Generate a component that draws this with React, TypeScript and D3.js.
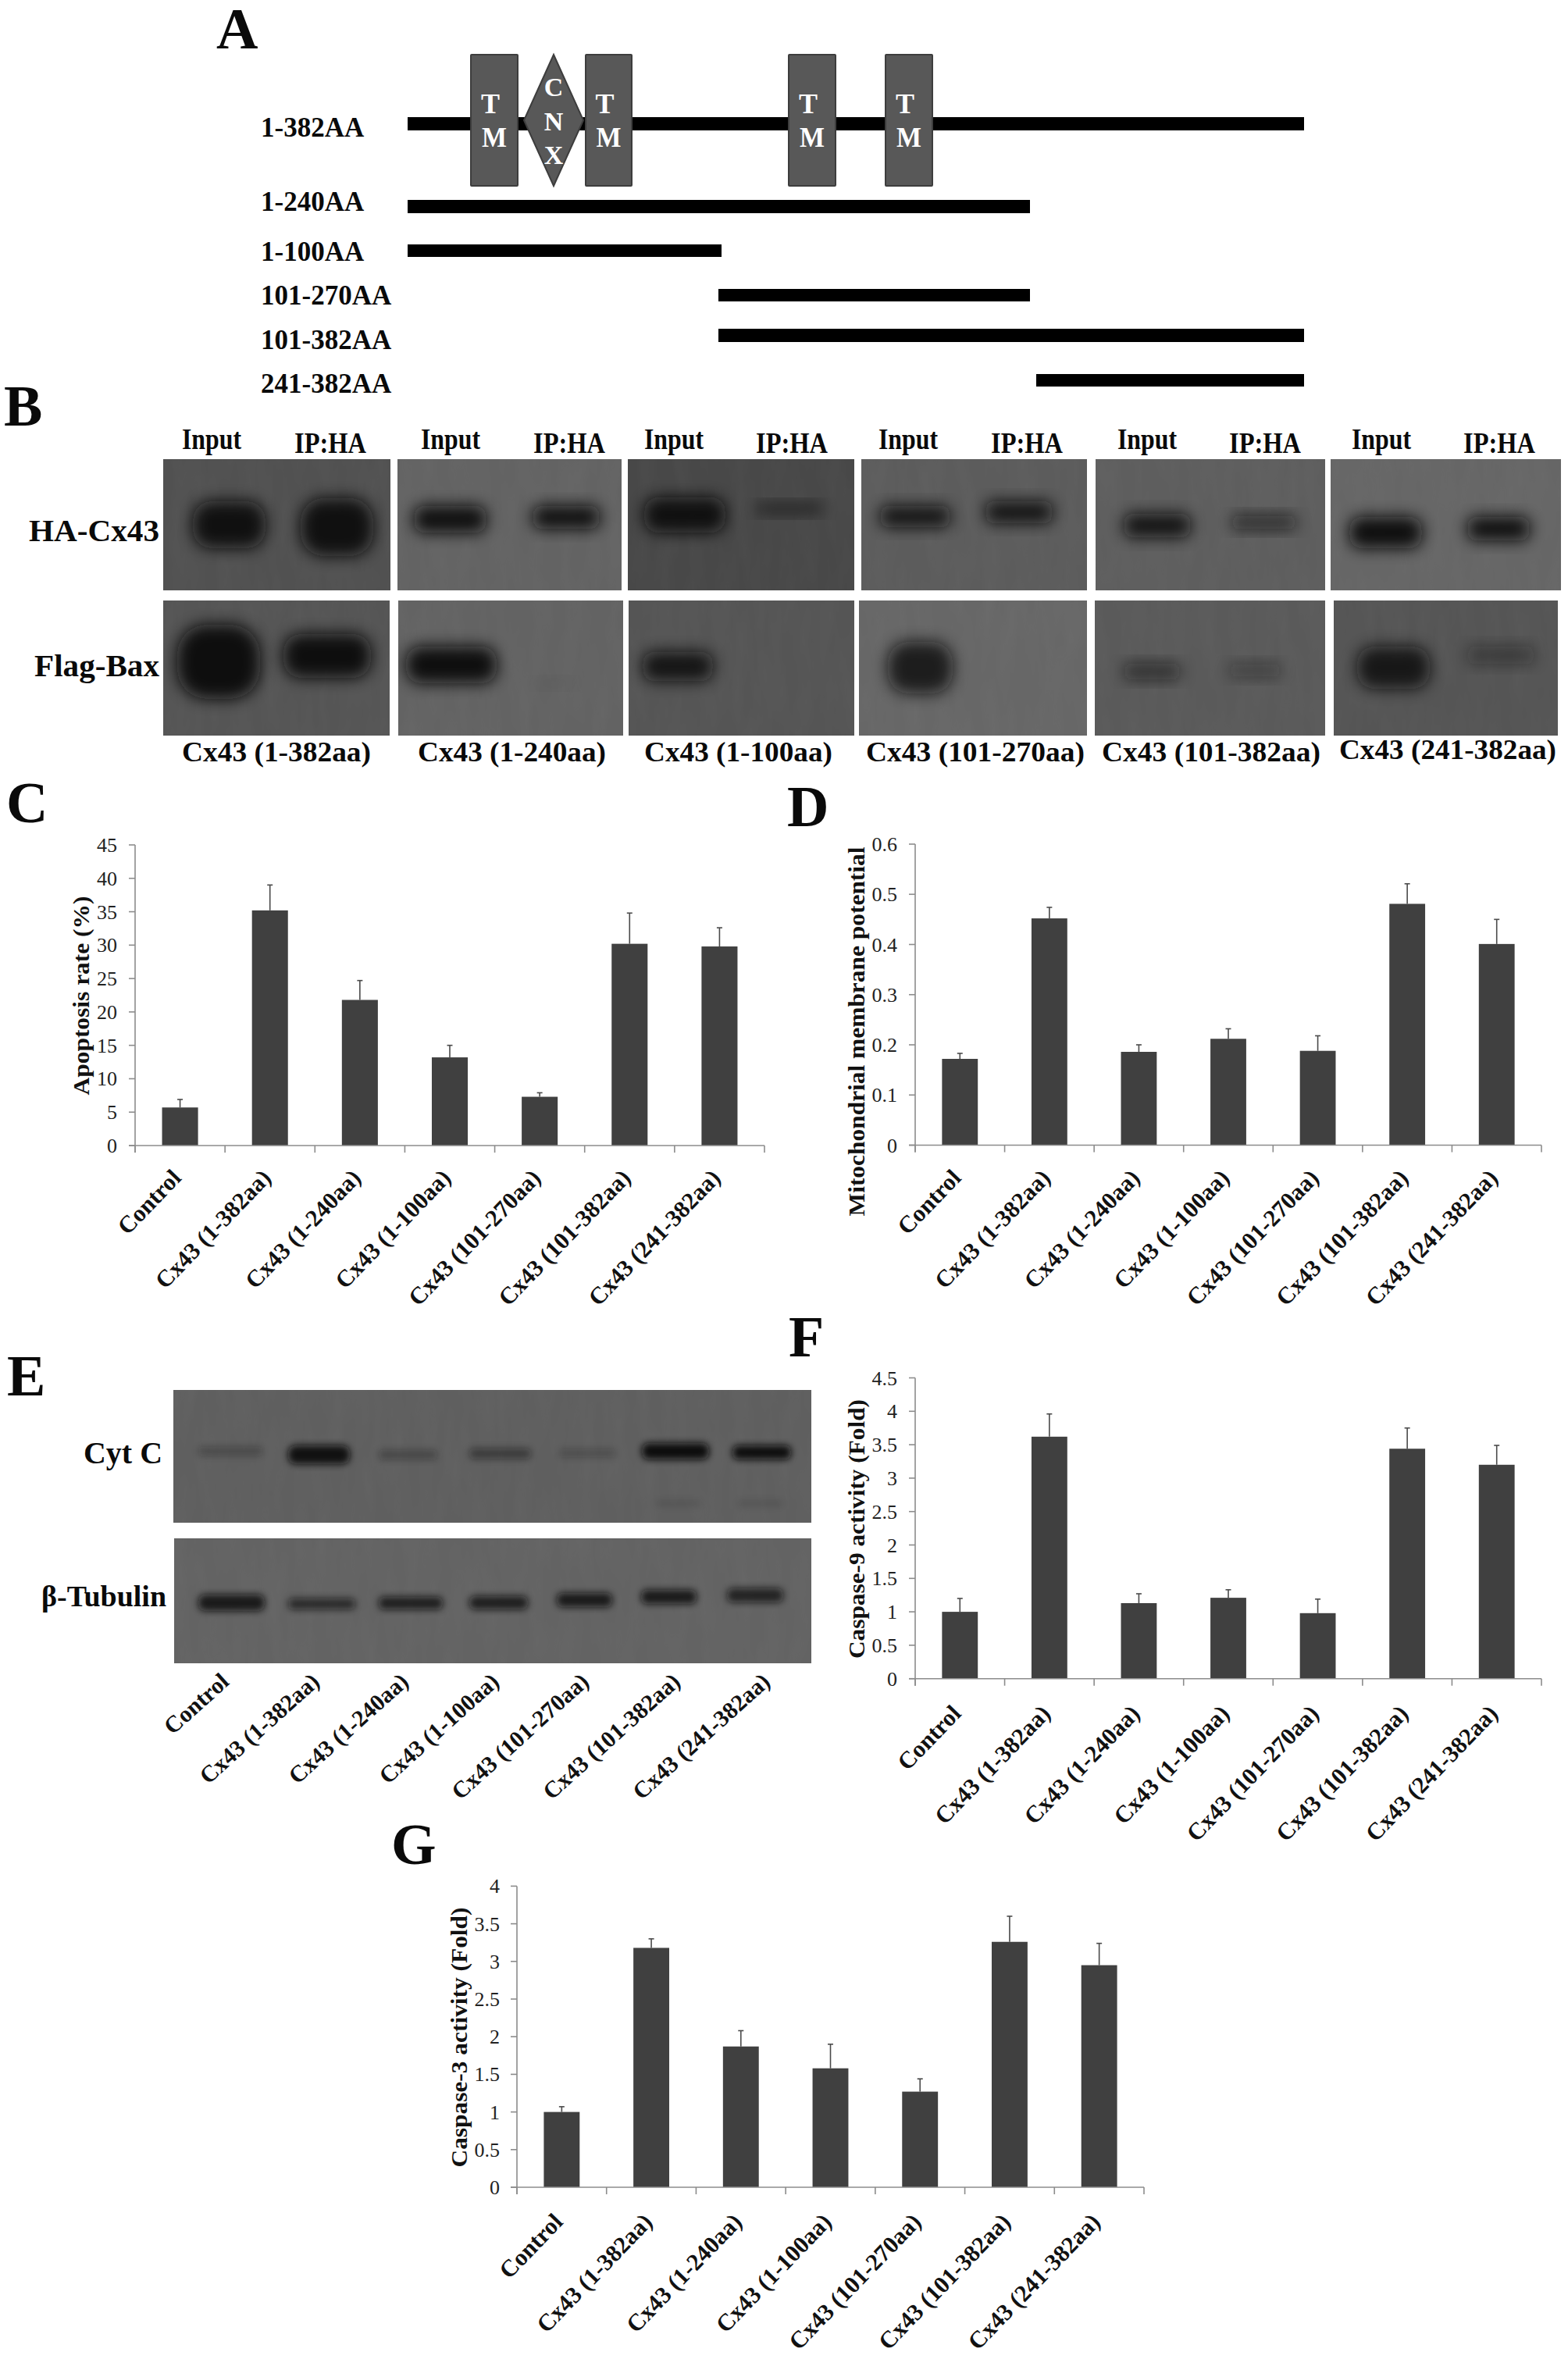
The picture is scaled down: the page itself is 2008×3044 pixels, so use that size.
import React from "react";
import * as d3 from "d3";

const categories = ["Control","Cx43 (1-382aa)","Cx43 (1-240aa)","Cx43 (1-100aa)","Cx43 (101-270aa)","Cx43 (101-382aa)","Cx43 (241-382aa)"];

const apoptosisMeans = [5.7,35.2,21.8,13.2,7.3,30.2,29.8];
const apoptosisErrTops = [6.9,39,24.7,15,7.9,34.8,32.6];
const apoptosisTicks = ["0","5","10","15","20","25","30","35","40","45"];

const mmpMeans = [0.172,0.452,0.186,0.212,0.188,0.481,0.401];
const mmpErrTops = [0.183,0.474,0.2,0.232,0.218,0.521,0.45];
const mmpTicks = ["0","0.1","0.2","0.3","0.4","0.5","0.6"];

const casp9Means = [1,3.62,1.13,1.21,0.98,3.44,3.2];
const casp9ErrTops = [1.2,3.96,1.27,1.33,1.19,3.75,3.49];
const casp9Ticks = ["0","0.5","1","1.5","2","2.5","3","3.5","4","4.5"];

const casp3Means = [1,3.18,1.87,1.58,1.27,3.26,2.95];
const casp3ErrTops = [1.07,3.3,2.08,1.9,1.44,3.6,3.24];
const casp3Ticks = ["0","0.5","1","1.5","2","2.5","3","3.5","4"];

// Panel A: construct boundaries in amino acids
const constructNames = ["1-382AA","1-240AA","1-100AA","101-270AA","101-382AA","241-382AA"];
const constructStarts = [1,1,1,101,101,241];
const constructEnds = [382,240,100,270,382,382];

// Panel B / E: band darkness per lane
const bInputTop = [0.95,0.98,0.95,0.92,0.92,0.98];
const bIpTop = [0.95,0.98,0.6,0.92,0.68,0.98];
const bInputBottom = [0.98,0.98,0.9,0.82,0.6,0.85];
const bIpBottom = [0.98,0.07,0,0,0.4,0.42];
const cytCDarkness = [0.28,0.95,0.3,0.45,0.24,1,1];
const tubulinDarkness = [0.85,0.68,0.8,0.8,0.85,0.85,0.75];

const SERIF = "'Liberation Serif','Times New Roman',serif";
const BAR = "#404040";
const AXIS = "#8c8c8c";
const band = "#0b0b0b";

type ChartProps = {
  x0: number; x1: number; yTop: number; yBottom: number; max: number;
  ticks: string[]; means: number[]; errs: number[]; title: string;
  titleX: number; titleY: number; titleLen: number; labelRight: number; labelY: number; tickRight: number;
};

function BarChart(p: ChartProps) {
  const x = d3.scaleBand<string>().domain(categories).range([p.x0, p.x1]).paddingInner(0.6).paddingOuter(0.3);
  const y = d3.scaleLinear().domain([0, p.max]).range([p.yBottom, p.yTop]);
  const step = x.step();
  const edges = d3.range(categories.length + 1).map((i) => p.x0 + i * step);
  return (
    <g>
      {categories.map((c, i) => {
        const cx = x(c)! + x.bandwidth() / 2;
        return (
          <g key={c}>
            <rect x={x(c)} y={y(p.means[i])} width={x.bandwidth()} height={p.yBottom - y(p.means[i])} fill={BAR} />
            <line x1={cx} x2={cx} y1={y(p.means[i])} y2={y(p.errs[i])} stroke="#4a4a4a" strokeWidth={1.6} />
            <line x1={cx - 3.5} x2={cx + 3.5} y1={y(p.errs[i])} y2={y(p.errs[i])} stroke="#4a4a4a" strokeWidth={1.6} />
            <text
              transform={`translate(${cx + p.labelRight},${p.labelY}) rotate(-46)`}
              textAnchor="end" fontFamily={SERIF} fontWeight="bold" fontSize={30.5} fill="#111"
            >{c}</text>
          </g>
        );
      })}
      <line x1={p.x0} x2={p.x0} y1={p.yTop} y2={p.yBottom + 9} stroke={AXIS} strokeWidth={1.6} />
      <line x1={p.x0 - 8} x2={p.x1} y1={p.yBottom} y2={p.yBottom} stroke={AXIS} strokeWidth={1.6} />
      {edges.map((e, i) => (
        <line key={i} x1={e} x2={e} y1={p.yBottom} y2={p.yBottom + 9} stroke={AXIS} strokeWidth={1.6} />
      ))}
      {p.ticks.map((t) => (
        <g key={t}>
          <line x1={p.x0 - 8} x2={p.x0} y1={y(+t)} y2={y(+t)} stroke={AXIS} strokeWidth={1.6} />
          <text x={p.tickRight} y={y(+t) + 9} textAnchor="end" fontFamily={SERIF} fontSize={26} fill="#222">{t}</text>
        </g>
      ))}
      <text
        transform={`translate(${p.titleX},${p.titleY}) rotate(-90)`} textAnchor="middle"
        fontFamily={SERIF} fontWeight="bold" fontSize={30} fill="#111"
        textLength={p.titleLen} lengthAdjust="spacingAndGlyphs"
      >{p.title}</text>
    </g>
  );
}

type Band = [number, number, number, number, number];
type Blot = { x0: number; x1: number; y0: number; y1: number; bg: string; bands: Band[] };

const blots: Blot[] = [
  { x0: 209, x1: 500, y0: 588, y1: 756, bg: "#515151", bands: [[242,345,637,707,bInputTop[0]],[380,483,633,717,bIpTop[0]]] },
  { x0: 509, x1: 796, y0: 588, y1: 756, bg: "#636363", bands: [[525,628,643,687,bInputTop[1]],[677,773,643,682,bIpTop[1]]] },
  { x0: 804, x1: 1094, y0: 588, y1: 756, bg: "#484848", bands: [[820,934,632,687,bInputTop[2]],[963,1058,640,663,bIpTop[2]]] },
  { x0: 1103, x1: 1392, y0: 588, y1: 756, bg: "#5c5c5c", bands: [[1122,1222,643,680,bInputTop[3]],[1257,1353,637,675,bIpTop[3]]] },
  { x0: 1403, x1: 1697, y0: 588, y1: 756, bg: "#5e5e5e", bands: [[1434,1530,653,693,bInputTop[4]],[1572,1665,655,683,bIpTop[4]]] },
  { x0: 1704, x1: 1999, y0: 588, y1: 756, bg: "#666666", bands: [[1723,1826,657,707,bInputTop[5]],[1874,1964,657,697,bIpTop[5]]] },
  { x0: 209, x1: 499, y0: 769, y1: 942, bg: "#555555", bands: [[222,338,795,900,bInputBottom[0]],[358,480,807,873,bIpBottom[0]]] },
  { x0: 510, x1: 798, y0: 769, y1: 942, bg: "#636363", bands: [[515,641,823,880,bInputBottom[1]],[680,740,865,885,bIpBottom[1]]] },
  { x0: 805, x1: 1094, y0: 769, y1: 942, bg: "#555555", bands: [[818,918,830,877,bInputBottom[2]],[950,1050,850,860,bIpBottom[2]]] },
  { x0: 1100, x1: 1392, y0: 769, y1: 942, bg: "#676767", bands: [[1132,1225,817,893,bInputBottom[3]],[1280,1330,850,870,bIpBottom[3]]] },
  { x0: 1402, x1: 1697, y0: 769, y1: 942, bg: "#5a5a5a", bands: [[1434,1517,845,875,bInputBottom[4]],[1569,1646,845,872,bIpBottom[4]]] },
  { x0: 1708, x1: 1995, y0: 769, y1: 942, bg: "#555555", bands: [[1733,1836,823,887,bInputBottom[5]],[1874,1970,823,855,bIpBottom[5]]] },
  { x0: 222, x1: 1039, y0: 1780, y1: 1950, bg: "#5f5f5f", bands: [
    [253,337,1852,1865,cytCDarkness[0]],[368,449,1850,1876,cytCDarkness[1]],[484,561,1856,1870,cytCDarkness[2]],[600,681,1854,1869,cytCDarkness[3]],
    [716,789,1855,1867,cytCDarkness[4]],[821,909,1847,1870,cytCDarkness[5]],[937,1014,1850,1870,cytCDarkness[6]],[839,898,1921,1929,0.15],[944,1003,1921,1929,0.15]] },
  { x0: 223, x1: 1039, y0: 1970, y1: 2130, bg: "#636363", bands: [
    [253,340,2041,2064,tubulinDarkness[0]],[368,456,2046,2062,tubulinDarkness[1]],[484,568,2044,2062,tubulinDarkness[2]],[600,677,2043,2062,tubulinDarkness[3]],
    [712,785,2039,2059,tubulinDarkness[4]],[820,893,2035,2055,tubulinDarkness[5]],[930,1004,2033,2053,tubulinDarkness[6]]] },
];

function BlotPanel({ b, id }: { b: Blot; id: number }) {
  const small = b.y1 > 1500;
  return (
    <g>
      <clipPath id={`clip${id}`}><rect x={b.x0} y={b.y0} width={b.x1 - b.x0} height={b.y1 - b.y0} /></clipPath>
      <rect x={b.x0} y={b.y0} width={b.x1 - b.x0} height={b.y1 - b.y0} fill={b.bg} />
      <g clipPath={`url(#clip${id})`}>
        <rect x={b.x0} y={b.y0} width={b.x1 - b.x0} height={b.y1 - b.y0} filter="url(#mottle)" opacity={0.025} />
        {b.bands.map((d, i) => {
          const ins = small ? 1 : 5;
          const h = Math.max(d[3] - d[2] - 2 * ins, 4);
          const w = d[1] - d[0] - 2 * ins;
          return (
            <rect key={i} x={d[0] + ins} y={(d[2] + d[3]) / 2 - h / 2} width={w} height={h}
              rx={Math.min(w, h) / 2.5} fill={band} opacity={d[4]} filter={small ? "url(#blurS)" : "url(#blurL)"} />
          );
        })}
      </g>
    </g>
  );
}

function T(props: any) {
  const { children, size, w, ...rest } = props;
  return (
    <text fontFamily={SERIF} fontWeight="bold" fontSize={size} fill="#0a0a0a"
      {...(w ? { textLength: w, lengthAdjust: "spacingAndGlyphs" } : {})} {...rest}>{children}</text>
  );
}

const constructX = d3.scaleLinear().domain([1, 382]).range([522, 1670]);
// The figure's segments are not exactly proportional to residue numbers; map the published breakpoints.
const constructXPos = d3.scaleLinear().domain([1, 100, 101, 240, 241, 270, 382]).range([522, 924, 920, 1319, 1327, 1319, 1670]);
const rowTops = [150, 256, 313, 370, 421, 479];
const rowHeights = [17, 17, 16, 16, 17, 16];
const rowBaselines = [175, 270, 334, 390, 447, 503];
const tmBoxes: [number, number][] = [[603,663],[750,809],[1010,1070],[1134,1194]];

const inputLabels = [233,539,825,1125,1431,1731];
const ipLabels = [377,683,968,1269,1574,1874];
const cxLabels: [string, number, number, number][] = [
  ["Cx43 (1-382aa)",233,242,975],["Cx43 (1-240aa)",535,241,975],["Cx43 (1-100aa)",825,241,975],
  ["Cx43 (101-270aa)",1109,280,975],["Cx43 (101-382aa)",1411,280,975],["Cx43 (241-382aa)",1715,278,972],
];
const letters: [string, number, number][] = [
  ["A",277,62],["B",5,545],["C",8,1053],["D",1008,1058],["E",9,1787],["F",1010,1737],["G",501,2387],
];
const eLabelRight = [298,414,528,644,759,876,991];

export default function App() {
  return (
    <svg width={2008} height={3044} viewBox="0 0 2008 3044"
      style={{ position: "absolute", left: 0, top: 0, background: "#fff", display: "block" }}>
      <defs>
        <filter id="blurL" x="-40%" y="-60%" width="180%" height="220%"><feGaussianBlur stdDeviation="10" /></filter>
        <filter id="blurS" x="-30%" y="-200%" width="160%" height="500%"><feGaussianBlur stdDeviation="5" /></filter>
        <filter id="mottle" x="0" y="0" width="100%" height="100%">
          <feTurbulence type="fractalNoise" baseFrequency="0.05 0.012" numOctaves={3} seed={7} />
          <feColorMatrix type="matrix" values="0 0 0 0 1  0 0 0 0 1  0 0 0 0 1  1.4 0 0 0 -0.4" />
        </filter>
      </defs>

      {letters.map(([l, x, y]) => <T key={l} x={x} y={y} size={74}>{l}</T>)}

      {/* Panel A */}
      {constructNames.map((n, i) => (
        <g key={n}>
          <T x={334} y={rowBaselines[i]} size={35}>{n}</T>
          <rect x={constructXPos(constructStarts[i])} y={rowTops[i]} height={rowHeights[i]}
            width={(constructEnds[i] === 382 ? constructX(382) : constructXPos(constructEnds[i])) - constructXPos(constructStarts[i])} fill="#000" />
        </g>
      ))}
      {tmBoxes.map(([a, b], i) => (
        <g key={i}>
          <rect x={a} y={70} width={b - a} height={168} fill="#585858" stroke="#3d3d3d" strokeWidth={2} rx={1} />
          <T x={(a + b) / 2 - 5} y={145} size={36} fill="#fff" textAnchor="middle">T</T>
          <T x={(a + b) / 2} y={188} size={36} fill="#fff" textAnchor="middle" w={32}>M</T>
        </g>
      ))}
      <path d="M709,70 L747,154 L709,238 L671,154 Z" fill="#585858" stroke="#3d3d3d" strokeWidth={2} />
      <T x={709} y={123} size={34} fill="#fff" textAnchor="middle">C</T>
      <T x={709} y={167} size={34} fill="#fff" textAnchor="middle">N</T>
      <T x={709} y={210} size={34} fill="#fff" textAnchor="middle">X</T>

      {/* Panel B */}
      {inputLabels.map((x, i) => <T key={i} x={x} y={575} size={37} w={76}>Input</T>)}
      {ipLabels.map((x, i) => <T key={i} x={x} y={580} size={37} w={92}>IP:HA</T>)}
      {blots.map((b, i) => <BlotPanel key={i} b={b} id={i} />)}
      <T x={37} y={693} size={41} w={167}>HA-Cx43</T>
      <T x={44} y={866} size={41} w={160}>Flag-Bax</T>
      {cxLabels.map(([t, x, w, y]) => <T key={t} x={x} y={y} size={36} w={w}>{t}</T>)}

      {/* Panel E labels */}
      <T x={107} y={1874} size={40} w={101}>Cyt C</T>
      <T x={53} y={2057} size={38} w={160}>β-Tubulin</T>
      {categories.map((c, i) => (
        <text key={c} transform={`translate(${eLabelRight[i] - 3},${2156}) rotate(-42)`} textAnchor="end"
          fontFamily={SERIF} fontWeight="bold" fontSize={30} fill="#111">{c}</text>
      ))}

      <BarChart x0={173} x1={979} yTop={1082} yBottom={1467} max={45} ticks={apoptosisTicks}
        means={apoptosisMeans} errs={apoptosisErrTops} title="Apoptosis rate (%)" titleX={114} titleY={1275} titleLen={255}
        labelRight={3} labelY={1510} tickRight={150} />
      <BarChart x0={1172} x1={1974} yTop={1081} yBottom={1466.5} max={0.6} ticks={mmpTicks}
        means={mmpMeans} errs={mmpErrTops} title="Mitochondrial membrane potential" titleX={1107} titleY={1321} titleLen={473}
        labelRight={3} labelY={1510} tickRight={1149} />
      <BarChart x0={1172} x1={1974} yTop={1764.5} yBottom={2149.7} max={4.5} ticks={casp9Ticks}
        means={casp9Means} errs={casp9ErrTops} title="Caspase-9 activity (Fold)" titleX={1107} titleY={1958} titleLen={332}
        labelRight={3} labelY={2196} tickRight={1149} />
      <BarChart x0={662} x1={1465} yTop={2415.4} yBottom={2801} max={4} ticks={casp3Ticks}
        means={casp3Means} errs={casp3ErrTops} title="Caspase-3 activity (Fold)" titleX={598} titleY={2609} titleLen={333}
        labelRight={3} labelY={2847} tickRight={640} />
    </svg>
  );
}
